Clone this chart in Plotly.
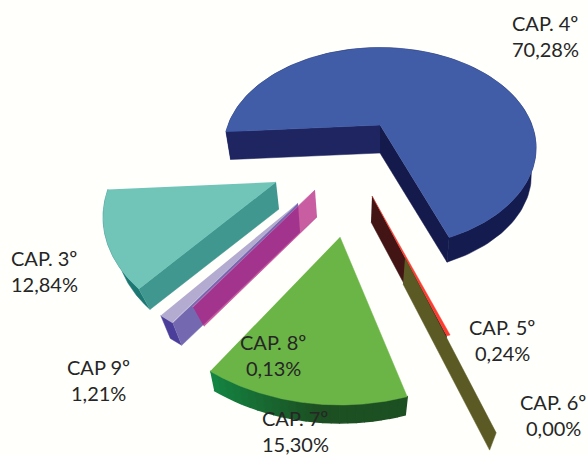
import numpy as np
import plotly.graph_objects as go

# --- data -------------------------------------------------------------
chapters = ["CAP. 4º", "CAP. 5º", "CAP. 6º", "CAP. 7º", "CAP. 8º", "CAP 9º", "CAP. 3º"]
shares = [70.28, 0.24, 0.00, 15.30, 0.13, 1.21, 12.84]

# --- pie styling: one entry per slice ---------------------------------
first_angle = 268.0
top_colors = ["#415da8", "#ff3b30", "#5b5a25", "#6bb546", "#cf6fb0", "#b4abd0", "#70c5b8"]
side_colors = ["#1f2560", "#421414", "#5b5a25", "#1c4f22", "rgba(180,33,129,0.73)", "#7468b0", "#3f978f"]
end_colors = ["#141a4c", "#421414", "#5b5a25", "#1c4f22", "rgba(180,33,129,0.73)", "#7468b0", "#3f978f"]
rim_colors = ["#141b4f", "#421414", "#5b5a25", "#1c4f22", "#b43399", "#4a3e9a", "#1d7772"]
pull_x = [0, -8, 25, -40, -65, -82, -104]      # explosion of each slice
pull_y = [0, 71, 133, 112, 65, 78, 57]
radius_x = [152, 240, 293, 216, 202, 206, 165]
radius_y = [95, 147, 184, 168, 147, 151, 107]
persp = [0.227, 0, 0, 0, 0, 0, 0.3]
turn = [-2, 0, 0, 0, 0, 0, -2]
depth = [28, 26, 26, 23, 27, 29, 27]
depth_dx = [0, -1, -2, 0, 2, 2, 3]
shrink = [0.97, 0.97, 0.95, 0.97, 0.93, 0.945, 0.94]
walls = [("rim", "start", "end"), ("end",), ("end",), ("rim",), ("start",), ("rim", "start"), ("rim", "start")]
draw_order = [0, 6, 5, 4, 1, 2, 3]

centre = (380, 125)
label_x = [545, 502, 553, 295, 273, 98, 44]
label_y = [23, 327, 402, 418, 342, 367, 258]
line_gap = 26
ink = "#262626"
paper = "#fffffb"

spans = np.array(shares) * 3.6
starts = first_angle + np.concatenate([[0], np.cumsum(spans)[:-1]])
ends = starts + spans


def point(i, theta, lower=False):
    t = np.radians(np.asarray(theta, dtype=float) + turn[i])
    ux, uy = np.sin(t), -np.cos(t)
    s = 1 / (1 - persp[i] * uy)
    ax, ay = centre[0] + pull_x[i], centre[1] + pull_y[i]
    k = 1.0
    if lower:
        ax, ay, k = ax + depth_dx[i], ay + depth[i], shrink[i]
    return ax + k * radius_x[i] * ux * s, ay + k * radius_y[i] * uy * s


def apex(i, lower=False):
    ax, ay = centre[0] + pull_x[i], centre[1] + pull_y[i]
    return (ax + depth_dx[i], ay + depth[i]) if lower else (ax, ay)


fig = go.Figure()


def poly(xs, ys, color, width=0.5):
    fig.add_trace(go.Scatter(x=list(xs), y=list(ys), mode="lines", fill="toself", fillcolor=color,
                             line=dict(color=color, width=width), hoverinfo="skip", showlegend=False))


def mix(a, b, f):
    return "rgb(%d,%d,%d)" % tuple(a[j] + (b[j] - a[j]) * f for j in range(3))


for i in draw_order:
    th = np.linspace(starts[i], ends[i], 160)
    if "rim" in walls[i]:
        if chapters[i] == "CAP. 7º":
            edges = np.linspace(ends[i], starts[i], 25)
            for n in range(24):
                seg = np.linspace(edges[n], edges[n + 1], 4)
                ux, uy = point(i, seg)
                lx, ly = point(i, seg[::-1], True)
                poly(np.r_[ux, lx], np.r_[uy, ly], mix((20, 132, 66), (28, 79, 34), min(1, n / 13)), 1.5)
        else:
            ux, uy = point(i, th)
            lx, ly = point(i, th[::-1], True)
            poly(np.r_[ux, lx], np.r_[uy, ly], rim_colors[i])
    for side, ang, col in (("end", ends[i], end_colors[i]), ("start", starts[i], side_colors[i])):
        if side in walls[i]:
            a, b = apex(i), apex(i, True)
            c = point(i, ang)
            d = point(i, ang, True)
            poly([a[0], float(c[0]), float(d[0]), b[0]], [a[1], float(c[1]), float(d[1]), b[1]], col)
    if spans[i] > 0:
        ux, uy = point(i, th)
        a = apex(i)
        poly(np.r_[a[0], ux], np.r_[a[1], uy], top_colors[i])

annotations = []
for name, v, x, y in zip(chapters, shares, label_x, label_y):
    for text, yy in ((name, y), (f"{v:.2f}%".replace(".", ","), y + line_gap)):
        annotations.append(dict(x=x, y=yy, xref="x", yref="y", text=text, showarrow=False,
                                xanchor="center", yanchor="middle",
                                font=dict(family="Lato", size=20, color=ink)))

fig.update_layout(width=588, height=455, margin=dict(l=0, r=0, t=0, b=0), paper_bgcolor=paper,
                  plot_bgcolor=paper, showlegend=False, annotations=annotations,
                  xaxis=dict(range=[0, 588], visible=False, fixedrange=True),
                  yaxis=dict(range=[455, 0], visible=False, fixedrange=True))
fig.write_html("out.html", config=dict(displayModeBar=False),
               post_script="document.body.style.margin='0';document.body.style.overflow='hidden';")
